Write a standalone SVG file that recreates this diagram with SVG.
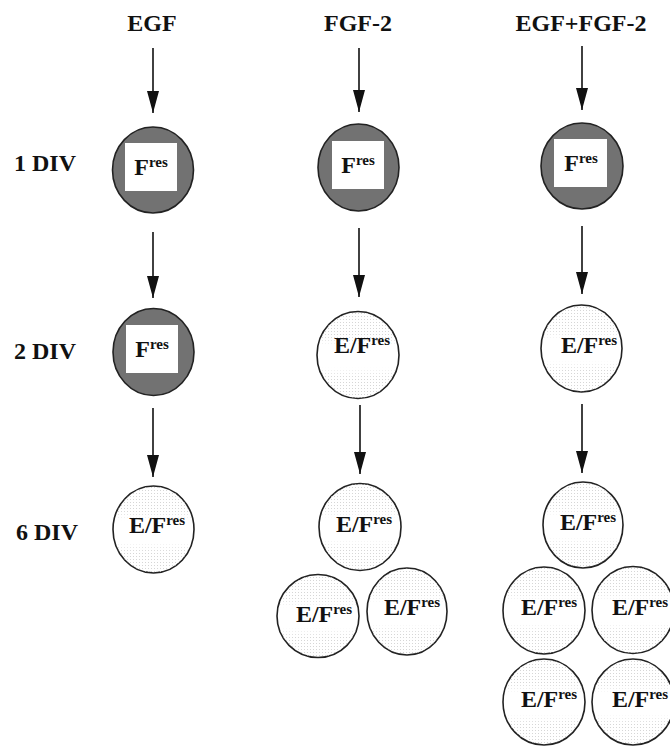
<svg xmlns="http://www.w3.org/2000/svg" width="670" height="747" viewBox="0 0 670 747">
<style>
text{font-family:"Liberation Serif","Times New Roman",serif;font-weight:bold;fill:#111}
.hdr{font-size:24px;text-anchor:middle}
.row{font-size:24px}
.lbl{font-size:24px;text-anchor:middle}
.sup{font-size:15px}
.dark{fill:#727272;stroke:#222;stroke-width:1.6}
.box{fill:#fff;stroke:none}
.light{fill:#fff;stroke:#222;stroke-width:1.6}
.dots{fill:url(#dotpat);stroke:none}
.arrow{stroke:#111;stroke-width:1.6;fill:none;marker-end:url(#head)}
</style>
<defs>
<marker id="head" viewBox="0 0 22 12" refX="22" refY="6" markerWidth="22" markerHeight="12" markerUnits="userSpaceOnUse" orient="auto">
<path d="M0,0 L22,6 L0,12 z" fill="#111"/>
</marker>
<pattern id="dotpat" width="3" height="3" patternUnits="userSpaceOnUse">
<circle cx="1.5" cy="1.5" r="0.55" fill="#cfcfcf"/>
</pattern>
<linearGradient id="bandGrad" x1="0" y1="0" x2="0" y2="1">
<stop offset="0" stop-color="#fff"/>
<stop offset="0.28" stop-color="#fff"/>
<stop offset="0.4" stop-color="#000"/>
<stop offset="0.64" stop-color="#000"/>
<stop offset="0.76" stop-color="#fff"/>
<stop offset="1" stop-color="#fff"/>
</linearGradient>
<mask id="band" maskContentUnits="objectBoundingBox">
<rect width="1" height="1" fill="url(#bandGrad)"/>
</mask>
</defs>

<g id="headers">
<text class="hdr" x="152" y="31">EGF</text>
<text class="hdr" x="358" y="31">FGF-2</text>
<text class="hdr" x="581" y="31">EGF+FGF-2</text>
</g>
<g id="rowlabels">
<text class="row" x="14" y="171">1 DIV</text>
<text class="row" x="14" y="359">2 DIV</text>
<text class="row" x="16" y="540">6 DIV</text>
</g>

<g id="connectors">
<line class="arrow" x1="153" y1="48" x2="153" y2="113"/>
<line class="arrow" x1="153" y1="232" x2="153" y2="298"/>
<line class="arrow" x1="153" y1="408" x2="153" y2="477"/>
<line class="arrow" x1="359" y1="48" x2="359" y2="112"/>
<line class="arrow" x1="359" y1="228" x2="359" y2="297"/>
<line class="arrow" x1="360" y1="405" x2="360" y2="474"/>
<line class="arrow" x1="582" y1="46" x2="582" y2="110"/>
<line class="arrow" x1="582" y1="226" x2="582" y2="294"/>
<line class="arrow" x1="582" y1="404" x2="582" y2="473"/>
</g>

<g id="egf-1div">
<ellipse class="dark" cx="153" cy="170" rx="40.5" ry="43"/>
<rect class="box" x="125" y="143" width="52" height="48"/>
<text class="lbl" x="151" y="175">F<tspan class="sup" dy="-8">res</tspan></text>
</g>
<g id="egf-2div">
<ellipse class="dark" cx="153.5" cy="352" rx="40.5" ry="43.5"/>
<rect class="box" x="126" y="325" width="52" height="48"/>
<text class="lbl" x="152" y="357">F<tspan class="sup" dy="-8">res</tspan></text>
</g>
<g id="egf-6div">
<ellipse class="light" cx="153.5" cy="529.5" rx="40.5" ry="43.5"/>
<ellipse class="dots" mask="url(#band)" cx="153.5" cy="529.5" rx="40" ry="43"/>
<text class="lbl" x="157" y="533">E/F<tspan class="sup" dy="-8">res</tspan></text>
</g>

<g id="fgf-1div">
<ellipse class="dark" cx="358.5" cy="167.5" rx="40.5" ry="43.5"/>
<rect class="box" x="332" y="141" width="52" height="48"/>
<text class="lbl" x="358" y="173">F<tspan class="sup" dy="-8">res</tspan></text>
</g>
<g id="fgf-2div">
<ellipse class="light" cx="358" cy="355" rx="41" ry="43.5"/>
<ellipse class="dots" mask="url(#band)" cx="358" cy="355" rx="40.5" ry="43"/>
<text class="lbl" x="362" y="353">E/F<tspan class="sup" dy="-8">res</tspan></text>
</g>
<g id="fgf-6div-a">
<ellipse class="light" cx="360" cy="527" rx="41" ry="43.5"/>
<ellipse class="dots" mask="url(#band)" cx="360" cy="527" rx="40.5" ry="43"/>
<text class="lbl" x="364" y="532">E/F<tspan class="sup" dy="-8">res</tspan></text>
</g>
<g id="fgf-6div-b">
<ellipse class="light" cx="318" cy="616" rx="41" ry="41.5"/>
<ellipse class="dots" mask="url(#band)" cx="318" cy="616" rx="40.5" ry="41"/>
<text class="lbl" x="324" y="622">E/F<tspan class="sup" dy="-8">res</tspan></text>
</g>
<g id="fgf-6div-c">
<ellipse class="light" cx="407" cy="611.5" rx="40" ry="43.5"/>
<ellipse class="dots" mask="url(#band)" cx="407" cy="611.5" rx="39.5" ry="43"/>
<text class="lbl" x="412" y="615">E/F<tspan class="sup" dy="-8">res</tspan></text>
</g>

<g id="both-1div">
<ellipse class="dark" cx="582" cy="166" rx="41" ry="43"/>
<rect class="box" x="554" y="139" width="53" height="48"/>
<text class="lbl" x="581" y="171">F<tspan class="sup" dy="-8">res</tspan></text>
</g>
<g id="both-2div">
<ellipse class="light" cx="581.5" cy="348.5" rx="40.5" ry="43.5"/>
<ellipse class="dots" mask="url(#band)" cx="581.5" cy="348.5" rx="40" ry="43"/>
<text class="lbl" x="589" y="353">E/F<tspan class="sup" dy="-8">res</tspan></text>
</g>
<g id="both-6div-a">
<ellipse class="light" cx="583" cy="525" rx="40" ry="43"/>
<ellipse class="dots" mask="url(#band)" cx="583" cy="525" rx="39.5" ry="42.5"/>
<text class="lbl" x="588" y="530">E/F<tspan class="sup" dy="-8">res</tspan></text>
</g>
<g id="both-6div-b">
<ellipse class="light" cx="544" cy="610.5" rx="41" ry="43.5"/>
<ellipse class="dots" mask="url(#band)" cx="544" cy="610.5" rx="40.5" ry="43"/>
<text class="lbl" x="549" y="615">E/F<tspan class="sup" dy="-8">res</tspan></text>
</g>
<g id="both-6div-c">
<ellipse class="light" cx="633" cy="610" rx="41" ry="43.5"/>
<ellipse class="dots" mask="url(#band)" cx="633" cy="610" rx="40.5" ry="43"/>
<text class="lbl" x="640" y="615">E/F<tspan class="sup" dy="-8">res</tspan></text>
</g>
<g id="both-6div-d">
<ellipse class="light" cx="544" cy="702" rx="41" ry="43"/>
<ellipse class="dots" mask="url(#band)" cx="544" cy="702" rx="40.5" ry="42.5"/>
<text class="lbl" x="549" y="707">E/F<tspan class="sup" dy="-8">res</tspan></text>
</g>
<g id="both-6div-e">
<ellipse class="light" cx="633" cy="702" rx="41" ry="43"/>
<ellipse class="dots" mask="url(#band)" cx="633" cy="702" rx="40.5" ry="42.5"/>
<text class="lbl" x="640" y="707">E/F<tspan class="sup" dy="-8">res</tspan></text>
</g>
</svg>
